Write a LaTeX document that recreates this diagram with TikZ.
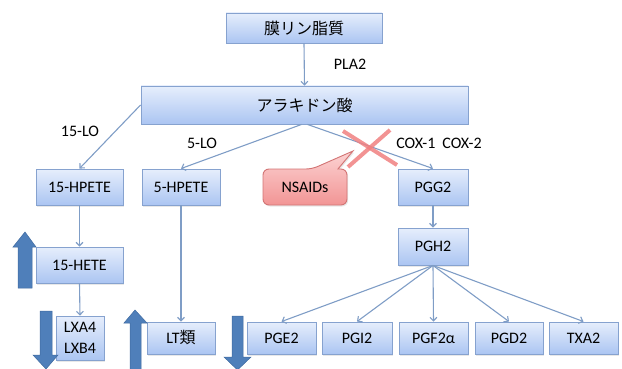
\documentclass[tikz,border=0pt]{standalone}
\usepackage{fontspec}
\setmainfont{Carlito}
\newfontfamily\jp{Noto Sans CJK JP}
\usetikzlibrary{arrows.meta,shadows}
\definecolor{boxtop}{HTML}{E6EEFC}
\definecolor{boxbot}{HTML}{ABC5F2}
\definecolor{boxline}{HTML}{86A2CF}
\definecolor{conn}{HTML}{7F9DC6}
\definecolor{bigarrow}{HTML}{4F7FBA}
\definecolor{bigline}{HTML}{3F6AA0}
\definecolor{pinktop}{HTML}{FCD3D3}
\definecolor{pinkbot}{HTML}{F29595}
\definecolor{pinkline}{HTML}{D27474}
\definecolor{xred}{HTML}{F08080}
\tikzset{
  box/.style={draw=boxline, line width=0.9pt, top color=boxtop, bottom color=boxbot,
    rectangle, inner sep=1pt, align=center, font=\fontsize{16}{20}\selectfont,
    drop shadow={opacity=0.18, shadow xshift=1.2pt, shadow yshift=-1.5pt}},
  conn/.style={draw=conn, line width=1.1pt, -{Straight Barb[length=3.5pt,width=7pt]}},
  lbl/.style={font=\fontsize{16}{20}\selectfont, inner sep=0pt},
  big/.style={fill=bigarrow, draw=bigline, line width=0.5pt}
}
\begin{document}
\begin{tikzpicture}[x=1pt,y=-1pt]
\useasboundingbox (0,0) rectangle (622,369);

% main boxes
\node[box, minimum width=156pt, minimum height=30pt] (memb) at (304,28) {\jp 膜リン脂質};
\node[box, minimum width=327pt, minimum height=38pt] (ara) at (304.5,105) {\jp アラキドン酸};
\node[box, minimum width=87pt, minimum height=36pt] (hp15) at (79.5,187) {15-HPETE};
\node[box, minimum width=78pt, minimum height=36pt] (hp5) at (181,187) {5-HPETE};
\node[box, minimum width=70pt, minimum height=36pt] (pgg2) at (433,187) {PGG2};
\node[box, minimum width=70pt, minimum height=37pt] (pgh2) at (433,246.5) {PGH2};
\node[box, minimum width=87pt, minimum height=36pt] (hete15) at (79.5,265) {15-HETE};
\node[box, minimum width=48pt, minimum height=44pt, font=\fontsize{16}{21}\selectfont] (lxa) at (80,338) {LXA4\\LXB4};
\node[box, minimum width=68pt, minimum height=32pt] (lt) at (181,338) {LT{\jp 類}};
\node[box, minimum width=69pt, minimum height=32pt] (pge2) at (281.5,338) {PGE2};
\node[box, minimum width=70pt, minimum height=32pt] (pgi2) at (357,338) {PGI2};
\node[box, minimum width=69pt, minimum height=32pt] (pgf) at (433.5,338) {PGF2α};
\node[box, minimum width=68pt, minimum height=32pt] (pgd2) at (509,338) {PGD2};
\node[box, minimum width=69pt, minimum height=32pt] (txa2) at (583.5,338) {TXA2};

% NSAIDs callout
\path[draw=pinkline, line width=0.9pt, top color=pinktop, bottom color=pinkbot,
  drop shadow={opacity=0.18, shadow xshift=1.2pt, shadow yshift=-1.5pt}]
  (263,187) [rounded corners=6pt] -- (263,169) -- (312,169) [sharp corners] -- (353,151) -- (338,169)
  [rounded corners=6pt] -- (347,169) -- (347,205) -- (263,205) [sharp corners] -- cycle;
\node[lbl] (nsaids) at (305,187) {NSAIDs};

% connectors
\draw[conn] (memb.south) -- (ara.north);
\draw[conn] (ara.west) -- (hp15.north);
\draw[conn] ([xshift=-3pt]ara.south) -- (hp5.north);
\draw[conn] ([xshift=3pt]ara.south) -- (pgg2.north);
\draw[conn] (hp15.south) -- (hete15.north);
\draw[conn] (hete15.south) -- (lxa.north);
\draw[conn] (hp5.south) -- (lt.north);
\draw[conn] (pgg2.south) -- (pgh2.north);
\foreach \t in {pge2,pgi2,pgf,pgd2,txa2}
  \draw[conn] (pgh2.south) -- (\t.north);

% labels
\node[lbl] (pla2) at (350,64) {PLA2};
\node[lbl] (lo15) at (80,131) {15-LO};
\node[lbl] (lo5) at (202,143) {5-LO};
\node[lbl] (cox) at (439,143) {COX-1\hspace{7pt}COX-2};

% red cross
\draw[xred, line width=4pt, opacity=0.85] (343,131) -- (397,165);
\draw[xred, line width=4pt, opacity=0.85] (390,130) -- (348,167);

% big arrows
\path[big] (25,232) -- (36,247) -- (32,247) -- (32,288) -- (18,288) -- (18,247) -- (13,247) -- cycle;
\path[big] (40,311) -- (52,311) -- (52,355) -- (58,355) -- (46,369) -- (33,355) -- (40,355) -- cycle;
\path[big] (135,310) -- (147,323) -- (141,323) -- (141,370) -- (130,370) -- (130,323) -- (124,323) -- cycle;
\path[big] (232,316) -- (243,316) -- (243,357) -- (251,357) -- (237.5,370) -- (224,357) -- (232,357) -- cycle;
\end{tikzpicture}
\end{document}
